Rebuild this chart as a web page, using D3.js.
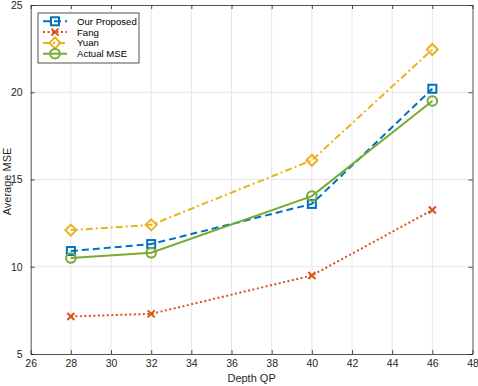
<!DOCTYPE html>
<html>
<head>
<meta charset="utf-8">
<script src="https://cdn.jsdelivr.net/npm/d3@7"></script>
<style>
  body { margin: 0; background: #fff; }
  text { font-family: "Liberation Sans", Arial, sans-serif; }
</style>
</head>
<body>
<svg id="chart" width="478" height="386"></svg>
<script>
// data
const qp = [28, 32, 40, 46]
const proposed = [10.9, 11.3, 13.6, 20.2]
const fang = [7.15, 7.3, 9.5, 13.25]
const yuan = [12.1, 12.4, 16.1, 22.45]
const actual = [10.5, 10.8, 14.05, 19.5]
const xTicks = [26, 28, 30, 32, 34, 36, 38, 40, 42, 44, 46, 48]
const yTicks = [5, 10, 15, 20, 25]

const series = [
  { name: 'Our Proposed', values: proposed, color: '#0072BD', dash: '7,4', marker: 'square' },
  { name: 'Fang', values: fang, color: '#D95319', dash: '2,2.5', marker: 'x' },
  { name: 'Yuan', values: yuan, color: '#EDB120', dash: '7,3,2,3', marker: 'diamond' },
  { name: 'Actual MSE', values: actual, color: '#77AC30', dash: null, marker: 'circle' }
]

const svg = d3.select('#chart')
const plotL = 30.7, plotR = 472.5, plotT = 5, plotB = 354

const x = d3.scaleLinear().domain([26, 48]).range([plotL, plotR])
const y = d3.scaleLinear().domain([5, 25]).range([plotB, plotT])

// grid
const grid = svg.append('g')
grid.selectAll('.gx').data(xTicks.slice(1, -1)).enter().append('line')
  .attr('x1', d => x(d)).attr('x2', d => x(d))
  .attr('y1', plotT).attr('y2', plotB)
  .attr('stroke', '#e6e6e6').attr('stroke-width', 1)
grid.selectAll('.gy').data(yTicks.slice(1, -1)).enter().append('line')
  .attr('y1', d => y(d)).attr('y2', d => y(d))
  .attr('x1', plotL).attr('x2', plotR)
  .attr('stroke', '#e6e6e6').attr('stroke-width', 1)

// axes
const axisColor = '#262626'
function styleAxis(g) {
  g.selectAll('path').attr('stroke', axisColor).attr('stroke-width', 0.8)
  g.selectAll('line').attr('stroke', axisColor).attr('stroke-width', 0.8)
  g.selectAll('text').attr('fill', axisColor).attr('font-size', '10.5px')
}
svg.append('g').attr('transform', `translate(0,${plotB})`)
  .call(d3.axisBottom(x).tickValues(xTicks).tickSize(-4).tickSizeOuter(0).tickPadding(6))
  .call(styleAxis)
svg.append('g').attr('transform', `translate(0,${plotT})`)
  .call(d3.axisTop(x).tickValues(xTicks).tickSize(-4).tickSizeOuter(0).tickFormat(''))
  .call(styleAxis)
svg.append('g').attr('transform', `translate(${plotL},0)`)
  .call(d3.axisLeft(y).tickValues(yTicks).tickSize(-4).tickSizeOuter(0).tickPadding(8))
  .call(styleAxis)
svg.append('g').attr('transform', `translate(${plotR},0)`)
  .call(d3.axisRight(y).tickValues(yTicks).tickSize(-4).tickSizeOuter(0).tickFormat(''))
  .call(styleAxis)

svg.append('text').attr('x', (plotL + plotR) / 2).attr('y', 382)
  .attr('text-anchor', 'middle').attr('font-size', '11px').attr('fill', axisColor)
  .text('Depth QP')
svg.append('text').attr('transform', `translate(11,${(plotT + plotB) / 2 + 2}) rotate(-90)`)
  .attr('text-anchor', 'middle').attr('font-size', '11px').attr('fill', axisColor)
  .text('Average MSE')

function drawMarker(g, type, cx, cy, color) {
  const s = 4
  if (type === 'square') {
    g.append('rect').attr('x', cx - s).attr('y', cy - s).attr('width', 2 * s).attr('height', 2 * s)
      .attr('fill', 'none').attr('stroke', color).attr('stroke-width', 2)
  } else if (type === 'x') {
    g.append('path').attr('d', `M${cx - 3.5},${cy - 3.5}L${cx + 3.5},${cy + 3.5}M${cx - 3.5},${cy + 3.5}L${cx + 3.5},${cy - 3.5}`)
      .attr('stroke', color).attr('stroke-width', 2)
  } else if (type === 'diamond') {
    const d = 5.5
    g.append('path').attr('d', `M${cx},${cy - d}L${cx + d},${cy}L${cx},${cy + d}L${cx - d},${cy}Z`)
      .attr('fill', 'none').attr('stroke', color).attr('stroke-width', 2)
  } else {
    g.append('circle').attr('cx', cx).attr('cy', cy).attr('r', 4.8)
      .attr('fill', 'none').attr('stroke', color).attr('stroke-width', 2)
  }
}

const line = d3.line().x((d, i) => x(qp[i])).y(d => y(d))

series.forEach(s => {
  const g = svg.append('g')
  g.append('path').datum(s.values).attr('d', line)
    .attr('fill', 'none').attr('stroke', s.color).attr('stroke-width', 2)
    .attr('stroke-dasharray', s.dash)
  s.values.forEach((v, i) => drawMarker(g, s.marker, x(qp[i]), y(v), s.color))
})

// legend
const lg = svg.append('g').attr('transform', 'translate(38,13)')
lg.append('rect').attr('width', 101).attr('height', 50)
  .attr('fill', '#fff').attr('stroke', axisColor).attr('stroke-width', 0.8)
series.forEach((s, i) => {
  const ly = 8.3 + i * 10.8
  lg.append('line').attr('x1', 5).attr('x2', 29).attr('y1', ly).attr('y2', ly)
    .attr('stroke', s.color).attr('stroke-width', 2).attr('stroke-dasharray', s.dash)
  drawMarker(lg, s.marker, 17, ly, s.color)
  lg.append('text').attr('x', 39).attr('y', ly + 3.5)
    .attr('font-size', '9.6px').attr('fill', '#000').text(s.name)
})
</script>
</body>
</html>
